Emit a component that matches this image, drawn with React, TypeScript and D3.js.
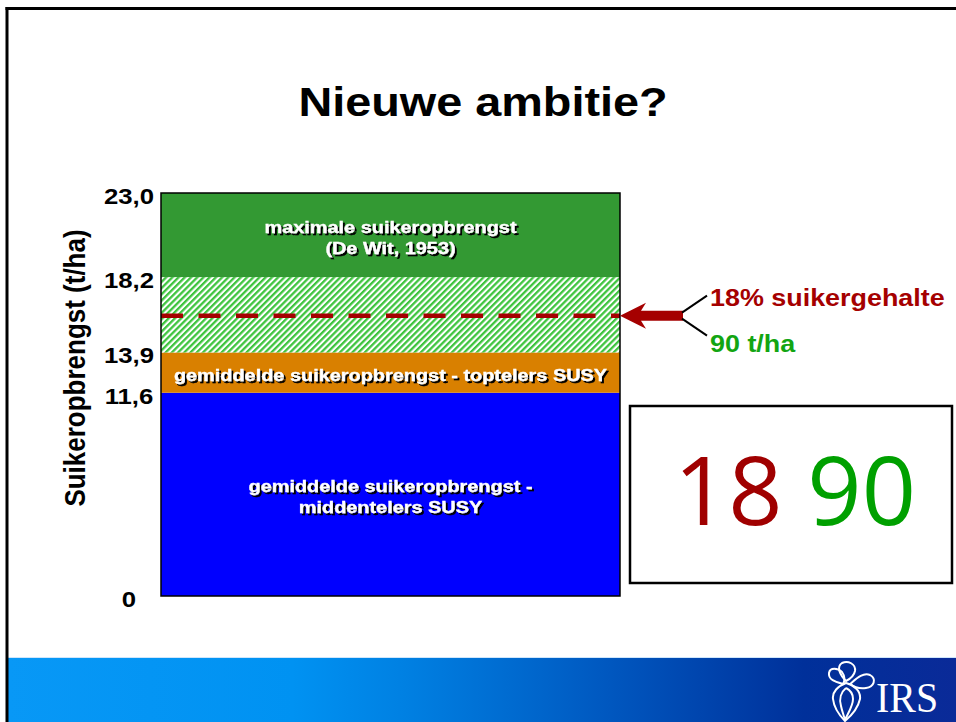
import React from "react";
import * as d3 from "d3";

const W = 956;
const H = 722;

// ---- data ----
const segmentStarts = [0, 11.6, 13.9, 18.2];
const segmentEnds = [11.6, 13.9, 18.2, 23.0];
const segmentLabels: string[][] = [
  ["gemiddelde suikeropbrengst -", "middentelers SUSY"],
  ["gemiddelde suikeropbrengst - toptelers SUSY"],
  [],
  ["maximale suikeropbrengst", "(De Wit, 1953)"],
];
const tickValues = [0, 11.6, 13.9, 18.2, 23.0];
const tickLabels = ["0", "11,6", "13,9", "18,2", "23,0"];
const targetValue = 16.0;
const titleText = "Nieuwe ambitie?";
const yAxisTitle = "Suikeropbrengst (t/ha)";
const annotationTop = "18% suikergehalte";
const annotationBottom = "90 t/ha";
const boxNumbers = ["18", "90"];

// ---- styles ----
const segmentFills = ["#0000ff", "#d98000", "url(#hatch)", "#339933"];
const DARK_RED = "#a50000";
const GREEN = "#12a512";
const SX = 1.17; // horizontal stretch of the slide text
const FONT = "'Liberation Sans', Arial, sans-serif";

export default function App() {
  const x0 = 161;
  const x1 = 620;
  const y = d3.scaleLinear().domain([0, 23]).range([596, 193]);
  const cx = (x0 + x1) / 2;
  const ty = y(targetValue);

  const stretched = (x: number, yy: number, content: React.ReactNode, key?: any) => (
    <g key={key} transform={`translate(${x},${yy}) scale(${SX},1)`}>{content}</g>
  );

  return (
    <svg
      width={W}
      height={H}
      viewBox={`0 0 ${W} ${H}`}
      style={{ position: "fixed", left: 0, top: 0, background: "#fff" }}
      fontFamily={FONT}
    >
      <defs>
        <pattern
          id="hatch"
          patternUnits="userSpaceOnUse"
          width={4.4}
          height={4.4}
          patternTransform="rotate(45)"
        >
          <rect width={4.4} height={4.4} fill="#ffffff" />
          <rect width={2.3} height={4.4} fill="#3ec43e" />
        </pattern>
        <linearGradient id="band" x1="0" x2="1" y1="0" y2="0">
          <stop offset="0" stopColor="#0898f6" />
          <stop offset="0.3" stopColor="#0092f2" />
          <stop offset="0.42" stopColor="#0080e2" />
          <stop offset="0.63" stopColor="#0058c0" />
          <stop offset="0.84" stopColor="#00309a" />
          <stop offset="1" stopColor="#0a2a98" />
        </linearGradient>
        <filter id="shadow" x="-5%" y="-30%" width="115%" height="170%">
          <feMorphology in="SourceAlpha" operator="dilate" radius="0.3" result="thick" />
          <feOffset in="thick" dx="1.8" dy="2" result="off" />
          <feFlood floodColor="#000" result="black" />
          <feComposite in="black" in2="off" operator="in" result="sh" />
          <feMerge>
            <feMergeNode in="sh" />
            <feMergeNode in="SourceGraphic" />
          </feMerge>
        </filter>
      </defs>

      {/* title */}
      {stretched(
        483,
        116,
        <text textAnchor="middle" fontSize={40} fontWeight="bold" fill="#000">
          {titleText}
        </text>
      )}

      {/* bar segments */}
      {segmentStarts.map((s, i) => (
        <rect
          key={"seg" + i}
          x={x0}
          y={y(segmentEnds[i])}
          width={x1 - x0}
          height={y(s) - y(segmentEnds[i])}
          fill={segmentFills[i]}
        />
      ))}

      {/* target dashed line */}
      <line
        x1={x0}
        x2={x1}
        y1={ty}
        y2={ty}
        stroke={DARK_RED}
        strokeWidth={4.5}
        strokeDasharray="22 15.5"
      />

      {/* bar outline */}
      <rect x={x0} y={y(23)} width={x1 - x0} height={y(0) - y(23)} fill="none" stroke="#000" strokeWidth={1.5} />

      {/* segment labels with shadow */}
      {segmentStarts.map((s, i) => {
        const lines = segmentLabels[i];
        const c = (y(s) + y(segmentEnds[i])) / 2;
        return lines.map((ln, j) => {
          const by = c + (j - (lines.length - 1) / 2) * 21 + 8;
          return stretched(
            cx,
            by,
            <text
              textAnchor="middle"
              fontSize={17}
              fontWeight="bold"
              fill="#fff"
              stroke="#fff"
              strokeWidth={0.3}
              filter="url(#shadow)"
            >
              {ln}
            </text>,
            `lab${i}-${j}`
          );
        });
      })}

      {/* y tick labels */}
      {tickValues.map((v, i) =>
        stretched(
          129,
          y(v) + 11,
          <text textAnchor="middle" fontSize={22} fontWeight="bold" fill="#000">
            {tickLabels[i]}
          </text>,
          "t" + i
        )
      )}

      {/* y axis title */}
      <g transform={`translate(74,368) scale(${SX},1) rotate(-90)`}>
        <text textAnchor="middle" dy="0.35em" fontSize={26} fontWeight="bold" fill="#000">
          {yAxisTitle}
        </text>
      </g>

      {/* arrow */}
      <path
        d={`M${x1},${ty} L${x1 + 26},${ty - 13} L${x1 + 21},${ty - 5} L${x1 + 63},${ty - 5} L${x1 + 63},${ty + 5} L${x1 + 21},${ty + 5} L${x1 + 26},${ty + 13} Z`}
        fill={DARK_RED}
      />
      <line x1={x1 + 62} y1={ty - 3} x2={x1 + 87} y2={ty - 20} stroke="#000" strokeWidth={2} />
      <line x1={x1 + 62} y1={ty + 3} x2={x1 + 87} y2={ty + 20} stroke="#000" strokeWidth={2} />
      {stretched(
        710,
        306,
        <text fontSize={23} fontWeight="bold" fill={DARK_RED}>
          {annotationTop}
        </text>
      )}
      {stretched(
        710,
        352,
        <text fontSize={23} fontWeight="bold" fill={GREEN}>
          {annotationBottom}
        </text>
      )}

      {/* number box */}
      <rect x={630} y={406} width={322} height={177} fill="#fff" stroke="#000" strokeWidth={2.5} />
      <text
        x={795}
        y={525}
        textAnchor="middle"
        fontSize={95}
        fontFamily="'Open Sans', 'DejaVu Sans', sans-serif"
      >
        <tspan fill="#a00000">{boxNumbers[0]}</tspan>
        <tspan fill="#00a000">{" " + boxNumbers[1]}</tspan>
      </text>

      {/* bottom band */}
      <rect x={8} y={657} width={W - 8} height={H - 657} fill="url(#band)" />
      <line x1={8} x2={W} y1={657.5} y2={657.5} stroke="#cfe6fb" strokeWidth={1} />

      {/* logo */}
      <g fill="none" stroke="#fff" strokeWidth={2} strokeLinejoin="round">
        <path d="M846,683 C838,686 832,692 833,699 C834,708 840,716 845,721 C851,716 858,708 860,699 C861,691 854,685 846,683 Z" />
        <path d="M846,688 C841,692 839,699 841,706 C842,711 844,716 845,720 C848,713 853,706 853,699 C853,694 850,690 846,688" />
        <path d="M843,684 C836,682 828,680 829,673 C830,667 838,668 842,672 C845,676 845,681 843,684 Z" />
        <path d="M846,681 C840,675 836,667 842,663 C848,660 856,664 855,671 C854,676 850,679 846,681 Z" />
        <path d="M850,684 C856,679 863,672 870,675 C877,679 874,687 866,688 C860,689 854,687 850,684 Z" />
      </g>
      <g transform="translate(876,712) scale(0.95,1)">
        <text fontSize={42} fontFamily="'Liberation Serif', 'Times New Roman', serif" fill="#fff">
          IRS
        </text>
      </g>

      {/* slide frame */}
      <line x1={7} x2={7} y1={7} y2={H} stroke="#000" strokeWidth={3} />
      <line x1={5.5} x2={W} y1={8.5} y2={8.5} stroke="#000" strokeWidth={3} />
    </svg>
  );
}
